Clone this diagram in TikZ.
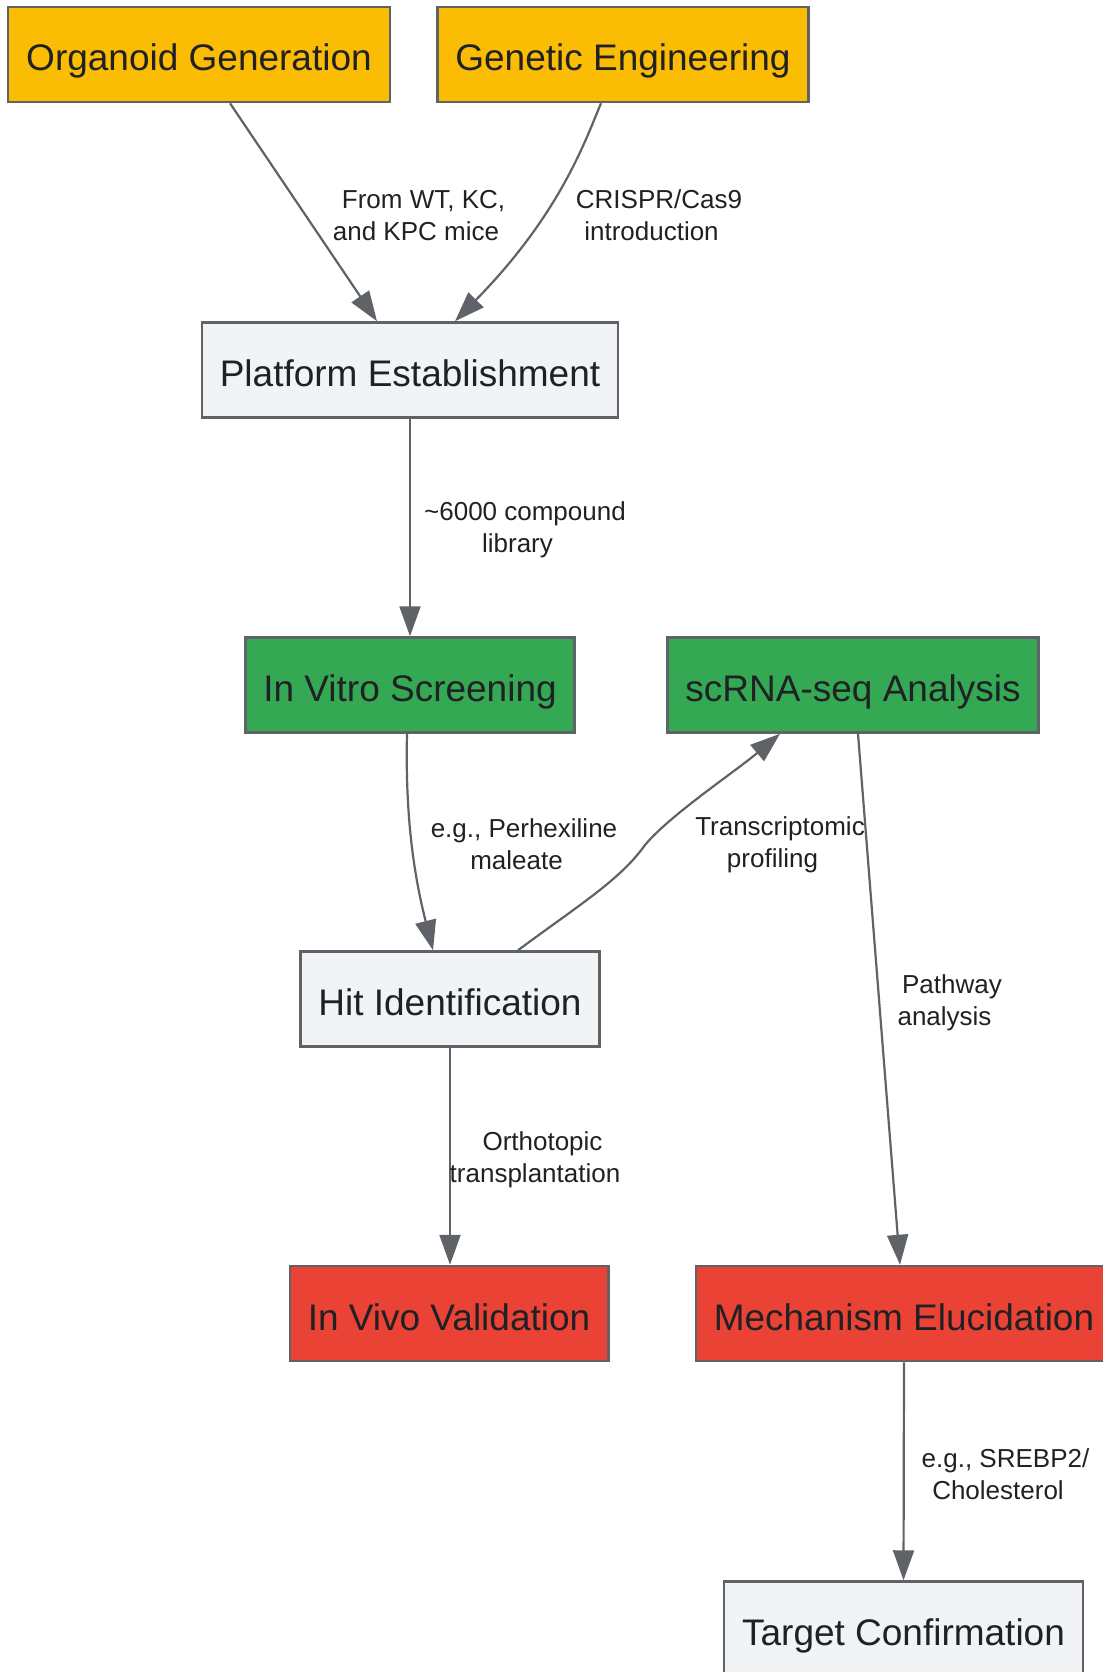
\documentclass[tikz,border=0pt]{standalone}
\usepackage{fontspec}
\setmainfont{Liberation Sans}
\usetikzlibrary{arrows.meta}
\definecolor{stepyellow}{HTML}{FBBC04}
\definecolor{stepgreen}{HTML}{34A853}
\definecolor{stepred}{HTML}{EA4335}
\definecolor{stepgray}{HTML}{F1F3F4}
\definecolor{edgegray}{HTML}{5F6368}
\definecolor{inkgray}{HTML}{202124}
\tikzset{
  box/.style={draw=edgegray, line width=2.5bp, rectangle, minimum height=95bp,
    inner xsep=18bp, text height=35bp, text depth=2bp, text=inkgray,
    font=\fontsize{37bp}{44bp}\selectfont},
  flow/.style={draw=edgegray, line width=2.2bp, -{Triangle[length=30bp,width=21bp]}},
  note/.style={text=inkgray, align=center, font=\fontsize{26bp}{32bp}\selectfont}
}
\begin{document}
\begin{tikzpicture}[x=1bp,y=-1bp]
  \useasboundingbox (0,0) rectangle (1102,1672);
  \node[box, fill=stepyellow] (org) at (199,54.5) {Organoid Generation};
  \node[box, fill=stepyellow] (gen) at (623,54.5) {Genetic Engineering};
  \node[box, fill=stepgray] (plat) at (410,370) {Platform Establishment};
  \node[box, fill=stepgreen] (vitro) at (410,685) {In Vitro Screening};
  \node[box, fill=stepgreen] (scrna) at (853,685) {scRNA-seq Analysis};
  \node[box, fill=stepgray] (hit) at (450,999) {Hit Identification};
  \node[box, fill=stepred] (vivo) at (449,1313.5) {In Vivo Validation};
  \node[box, fill=stepred] (mech) at (904,1313.5) {Mechanism Elucidation};
  \node[box, fill=stepgray] (target) at (903.5,1629) {Target Confirmation};

  \draw[flow] ([xshift=31bp]org.south) -- ([xshift=-33bp]plat.north);
  \draw[flow] ([xshift=-22bp]gen.south) .. controls +(-16,38) and +(105,-107) .. ([xshift=45bp]plat.north);
  \draw[flow] (plat.south) -- (vitro.north);
  \draw[flow] ([xshift=-3bp]vitro.south) .. controls +(-2,87) and +(-18,-71) .. ([xshift=-17bp]hit.north);
  \draw[flow] ([xshift=68bp]hit.north) .. controls +(62,-46) and +(-25,35) .. (645,845)
    .. controls +(25,-30) and +(-45,38) .. ([xshift=-73bp]scrna.south);
  \draw[flow] ([xshift=5bp]scrna.south) -- ([xshift=-4bp]mech.north);
  \draw[flow] (hit.south) -- (hit.south |- vivo.north);
  \draw[flow] (mech.south) -- (target.north);

  \node[note] (lblorg) at (423.5,215.5) {From WT, KC,\\and KPC mice\hspace*{15bp}};
  \node[note] (lblgen) at (659,215.5) {CRISPR/Cas9\\introduction\hspace*{15bp}};
  \node[note] (lbllib) at (525,529.5) {\textasciitilde6000 compound\\library\hspace*{15bp}};
  \node[note] (lblhit) at (524,844.5) {e.g., Perhexiline\\maleate\hspace*{15bp}};
  \node[note] (lblseq) at (780,844.5) {Transcriptomic\\profiling\hspace*{15bp}};
  \node[note] (lblpath) at (952,1002.5) {Pathway\\analysis\hspace*{15bp}};
  \node[note] (lblvivo) at (542.5,1159.5) {Orthotopic\\transplantation\hspace*{15bp}};
  \node[note] (lblmech) at (1005.5,1474.5) {e.g., SREBP2/\\Cholesterol\hspace*{15bp}};
\end{tikzpicture}
\end{document}
